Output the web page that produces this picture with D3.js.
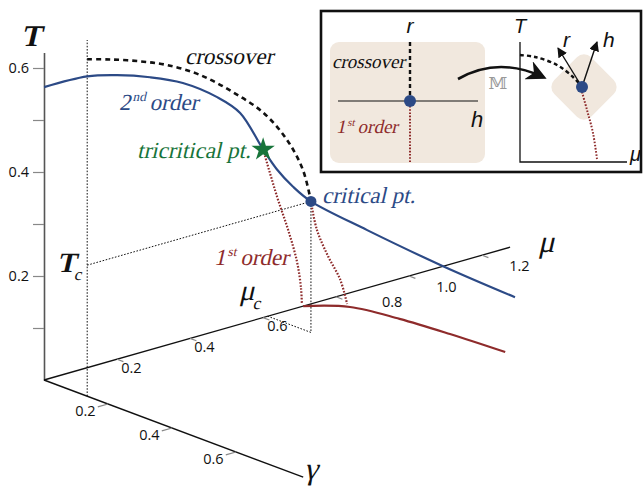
<!DOCTYPE html>
<html>
<head>
<script src="https://d3js.org/d3.v7.min.js"></script>
<style>
	body { margin: 0; background: #fff; }
</style>
</head>
<body>
<script>

// phase diagram data, (mu, gamma, T) coordinates
const gamma0 = 0.135;
const muC = 0.613, tC = 0.252;
const muTri = 0.482, tTri = 0.378;

const secondOrderMu = [-0.118, 0.0, 0.082, 0.172, 0.262, 0.356, 0.419, 0.482, 0.520, 0.564, 0.613, 0.767, 0.975, 1.172];
const secondOrderT  = [0.618, 0.615, 0.601, 0.579, 0.550, 0.504, 0.461, 0.378, 0.332, 0.290, 0.252, 0.166, 0.055, -0.044];

const crossoverMu = [0.0, 0.063, 0.145, 0.219, 0.309, 0.399, 0.482, 0.547, 0.591, 0.613];
const crossoverT  = [0.648, 0.635, 0.615, 0.593, 0.556, 0.505, 0.449, 0.384, 0.317, 0.252];

const firstTriMu = [0.482, 0.520, 0.550, 0.575, 0.586, 0.588];
const firstTriT  = [0.378, 0.280, 0.211, 0.143, 0.089, 0.061];
const firstCritMu = [0.613, 0.629, 0.660, 0.693, 0.712];
const firstCritT  = [0.252, 0.195, 0.137, 0.086, 0.035];

const floorMu    = [0.71, 0.7795, 0.8075, 0.823, 0.834];
const floorGamma = [0.0, 0.067, 0.19, 0.33, 0.49];

const tTicks  = [0.1, 0.2, 0.3, 0.4, 0.5, 0.6];
const muTicks = [0.2, 0.4, 0.6, 0.8, 1.0, 1.2];
const gTicks  = [0.2, 0.4, 0.6];

const blue = "#2c4a86", red = "#8e2b2b", green = "#17743a", beige = "#f1e8de";
const serif = "Liberation Serif";
const sans = "Liberation Sans";
const numFont = "Open Sans", numSize = 14.5;

const W = 644, H = 487;
const svg = d3.select("body").append("svg").attr("width", W).attr("height", H);

// oblique projection built from linear scales
const ox = 44;
const muX = d3.scaleLinear().domain([0, 1]).range([0, 365]);
const muY = d3.scaleLinear().domain([0, 1]).range([0, -104]);
const gX  = d3.scaleLinear().domain([0, 1]).range([0, 320]);
const gY  = d3.scaleLinear().domain([0, 1]).range([0, 120]);
const tY  = d3.scaleLinear().domain([0, 1]).range([380, -140]);
function P(mu, g, t) { return [ox + muX(mu) + gX(g), tY(t) + muY(mu) + gY(g)]; }

const line = d3.line().curve(d3.curveCatmullRom);
const straight = d3.line();

// T axis
const tAxisScale = tY.copy().domain([0, 0.63]).range([tY(0), tY(0.63)]);
svg.append("g")
	.attr("transform", "translate(" + ox + ",0)")
	.call(d3.axisLeft(tAxisScale).tickValues(tTicks).tickSize(11).tickSizeOuter(0).tickPadding(4)
		.tickFormat(d => Math.round(d * 10) % 2 === 0 ? d3.format(".1f")(d) : ""))
	.attr("font-family", numFont).attr("font-size", numSize)
	.call(g => g.select(".domain").attr("stroke", "#555").attr("stroke-width", 1.6))
	.call(g => g.selectAll(".tick line").attr("stroke", "#888").attr("stroke-width", 1.2))
	.call(g => g.selectAll(".tick text").attr("fill", "#111"));

// mu axis and gamma axis
svg.append("path").attr("d", straight([P(0, 0, 0), P(1.277, 0, 0)]))
	.attr("stroke", "#111").attr("stroke-width", 1.3).attr("fill", "none");
svg.append("path").attr("d", straight([P(0, 0, 0), P(0, 0.81, 0)]))
	.attr("stroke", "#111").attr("stroke-width", 1.4).attr("fill", "none");

const num = (x, y, s) => svg.append("text").attr("x", x).attr("y", y)
	.attr("font-family", numFont).attr("font-size", numSize).attr("fill", "#111")
	.attr("text-anchor", "middle").attr("dy", "0.35em").text(s);

muTicks.forEach(t => {
	svg.append("path").attr("d", straight([P(t, 0, 0), P(t, 0.02, 0)]))
		.attr("stroke", "#888").attr("stroke-width", 1.2);
	const gOff = t < 0.7 ? 0.06 : 0.1;
	const mOff = t === 0.8 ? 0.066 : (t < 0.7 ? -0.013 : 0.015);
	const p = P(t + mOff, gOff, 0);
	num(p[0], p[1], d3.format(".1f")(t));
});
gTicks.forEach(t => {
	svg.append("path").attr("d", straight([P(0, t, 0), P(-0.028, t, 0)]))
		.attr("stroke", "#888").attr("stroke-width", 1.2);
	const p = P(-0.062, t, 0);
	num(p[0], p[1], d3.format(".1f")(t));
});

// thin dotted guides
const guide = (pts) => svg.append("path").attr("d", straight(pts))
	.attr("stroke", "#111").attr("stroke-width", 1).attr("stroke-dasharray", "1.6,1.6").attr("fill", "none");
guide([P(0, gamma0, 0), P(0, gamma0, 0.685)]);
guide([P(0, gamma0, tC), P(muC, gamma0, tC)]);
guide([P(muC, gamma0, tC), P(muC, gamma0, 0)]);
guide([P(muC, gamma0, 0), P(muC, 0, 0)]);

// curves
const upper = (mus, ts) => mus.map((m, i) => P(m, gamma0, ts[i]));

svg.append("path").attr("d", line(upper(crossoverMu, crossoverT)))
	.attr("fill", "none").attr("stroke", "#111").attr("stroke-width", 2.6).attr("stroke-dasharray", "5,4");

svg.append("path").attr("d", line(upper(firstTriMu, firstTriT)))
	.attr("fill", "none").attr("stroke", red).attr("stroke-width", 2.2).attr("stroke-dasharray", "1.6,1.6");
svg.append("path").attr("d", line(upper(firstCritMu, firstCritT)))
	.attr("fill", "none").attr("stroke", red).attr("stroke-width", 2.2).attr("stroke-dasharray", "1.6,1.6");

svg.append("path").attr("d", line(floorMu.map((m, i) => P(m, floorGamma[i], 0))))
	.attr("fill", "none").attr("stroke", red).attr("stroke-width", 2.2);

svg.append("path").attr("d", line(upper(secondOrderMu, secondOrderT)))
	.attr("fill", "none").attr("stroke", blue).attr("stroke-width", 2.2);

// markers
const crit = P(muC, gamma0, tC);
svg.append("circle").attr("cx", crit[0]).attr("cy", crit[1]).attr("r", 5.5).attr("fill", blue);
const tri = P(muTri, gamma0, tTri);
svg.append("path").attr("d", d3.symbol(d3.symbolStar).size(170)())
	.attr("transform", "translate(" + tri[0] + "," + tri[1] + ")").attr("fill", green);

// labels; serif ones are upright Times slanted with skewX (no serif italic face here)
function addLabel(parent, x, y, size, color, parts, opts) {
	opts = opts || {};
	let t;
	if (opts.family) {
		t = parent.append("text").attr("x", x).attr("y", y)
			.attr("font-family", opts.family).attr("font-style", "italic");
	} else {
		t = parent.append("g").attr("transform", "translate(" + x + "," + y + ") skewX(-13)")
			.append("text").attr("font-family", serif);
	}
	t.attr("fill", color).attr("font-size", size).attr("text-anchor", opts.anchor || "start");
	if (opts.weight) t.attr("font-weight", opts.weight);
	if (parts.length === 1) { t.text(parts[0][0]); return t; }
	parts.forEach(p => {
		const s = t.append("tspan").text(p[0]);
		if (p[1] === "sup") s.attr("font-size", size * 0.58).attr("dy", -size * 0.38);
		if (p[1] === "after") s.attr("dy", size * 0.38);
		if (p[1] === "sub") s.attr("font-size", size * 0.6).attr("dy", size * 0.3).attr("font-weight", "normal");
	});
	return t;
}
addLabel(svg, 185, 64, 23, "#111", [["crossover"]]);
addLabel(svg, 119, 110, 23, blue, [["2"], ["nd", "sup"], [" order", "after"]]);
addLabel(svg, 137, 158, 23, green, [["tricritical pt."]]);
addLabel(svg, 322, 203, 23, blue, [["critical pt."]]);
addLabel(svg, 214, 265, 23, red, [["1"], ["st", "sup"], [" order", "after"]]);

addLabel(svg, 21, 46, 30, "#111", [["T"]], {weight: "bold"});
addLabel(svg, 57, 272, 28, "#111", [["T"], ["c", "sub"]], {weight: "bold"});
addLabel(svg, 239, 300, 29, "#111", [["\u03bc"], ["c", "sub"]]);
addLabel(svg, 538, 252, 31, "#111", [["\u03bc"]]);
addLabel(svg, 304, 479, 31, "#111", [["\u03b3"]]);

// inset
const inset = svg.append("g");
inset.append("rect").attr("x", 321).attr("y", 11).attr("width", 320).attr("height", 161)
	.attr("fill", "#fff").attr("stroke", "#111").attr("stroke-width", 2.6);
inset.append("rect").attr("x", 330).attr("y", 42).attr("width", 155).attr("height", 121).attr("rx", 9)
	.attr("fill", beige);
inset.append("line").attr("x1", 338).attr("x2", 478).attr("y1", 101).attr("y2", 101)
	.attr("stroke", "#111").attr("stroke-width", 1.2);
inset.append("line").attr("x1", 410).attr("x2", 410).attr("y1", 42).attr("y2", 95)
	.attr("stroke", "#111").attr("stroke-width", 2.4).attr("stroke-dasharray", "4,3");
inset.append("line").attr("x1", 410).attr("x2", 410).attr("y1", 106).attr("y2", 162)
	.attr("stroke", red).attr("stroke-width", 2).attr("stroke-dasharray", "1.6,1.6");
inset.append("circle").attr("cx", 410).attr("cy", 101).attr("r", 6).attr("fill", blue);

addLabel(inset, 410, 33, 21, "#111", [["r"]], {family: sans, anchor: "middle"});
addLabel(inset, 332, 68, 19, "#111", [["crossover"]]);
addLabel(inset, 336, 133, 19, red, [["1"], ["st", "sup"], [" order", "after"]]);
addLabel(inset, 471, 127, 22, "#111", [["h"]], {family: sans});

// curved arrow with M
const defs = svg.append("defs");
defs.append("marker").attr("id", "bighead").attr("viewBox", "0 0 10 10").attr("refX", 8).attr("refY", 5)
	.attr("markerWidth", 20).attr("markerHeight", 20).attr("orient", "auto").attr("markerUnits", "userSpaceOnUse")
	.append("path").attr("d", "M0,0 L10,5 L0,10 L3,5 Z").attr("fill", "#111");
defs.append("marker").attr("id", "smallhead").attr("viewBox", "0 0 10 10").attr("refX", 9).attr("refY", 5)
	.attr("markerWidth", 10).attr("markerHeight", 10).attr("orient", "auto").attr("markerUnits", "userSpaceOnUse")
	.append("path").attr("d", "M0,0 L10,5 L0,10 Z").attr("fill", "#111");

inset.append("path").attr("d", "M458,79 Q498,56 543,77")
	.attr("fill", "none").attr("stroke", "#111").attr("stroke-width", 2.6).attr("marker-end", "url(#bighead)");
inset.append("text").attr("x", 498).attr("y", 89).attr("text-anchor", "middle")
	.attr("fill", "#999").attr("font-size", 17).attr("font-family", "DejaVu Serif").text("\ud835\udd44");

// small T-mu sketch
inset.append("path").attr("d", "M520,42 L520,162 L627,162")
	.attr("fill", "none").attr("stroke", "#111").attr("stroke-width", 1.3);
inset.append("rect").attr("x", -26).attr("y", -26).attr("width", 52).attr("height", 52).attr("rx", 10)
	.attr("transform", "translate(584,87) rotate(45)").attr("fill", beige);
inset.append("path").attr("d", line([[520, 55], [535, 57], [557, 65], [573, 77], [582, 87]]))
	.attr("fill", "none").attr("stroke", "#111").attr("stroke-width", 2.4).attr("stroke-dasharray", "4,3");
inset.append("path").attr("d", line([[582, 92], [587, 110], [593, 133], [597, 159]]))
	.attr("fill", "none").attr("stroke", red).attr("stroke-width", 2).attr("stroke-dasharray", "1.6,1.6");
inset.append("line").attr("x1", 582).attr("y1", 87).attr("x2", 558).attr("y2", 48)
	.attr("stroke", "#111").attr("stroke-width", 1.4).attr("marker-end", "url(#smallhead)");
inset.append("line").attr("x1", 582).attr("y1", 87).attr("x2", 597).attr("y2", 42)
	.attr("stroke", "#111").attr("stroke-width", 1.4).attr("marker-end", "url(#smallhead)");
inset.append("circle").attr("cx", 582).attr("cy", 87).attr("r", 6).attr("fill", blue);
addLabel(inset, 520, 33, 20, "#111", [["T"]], {family: sans, anchor: "middle"});
addLabel(inset, 630, 161, 20, "#111", [["\u03bc"]], {family: sans});
addLabel(inset, 563, 47, 21, "#111", [["r"]], {family: sans});
addLabel(inset, 603, 47, 21, "#111", [["h"]], {family: sans});

</script>
</body>
</html>
